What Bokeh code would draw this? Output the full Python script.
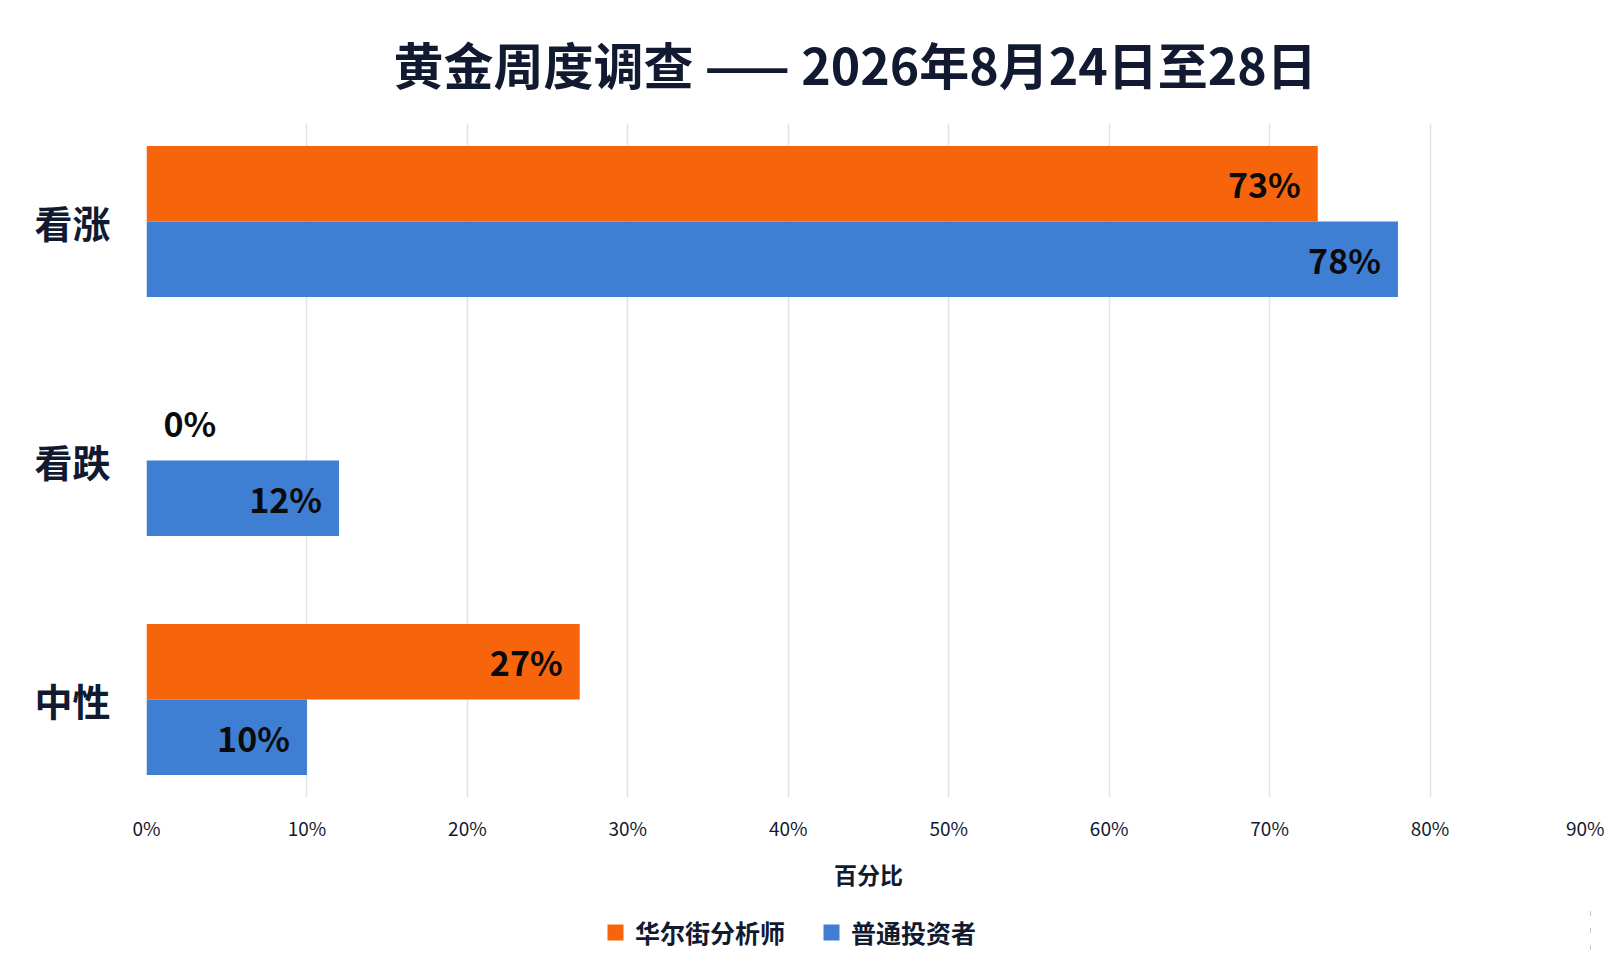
from bokeh.plotting import figure
from bokeh.models import ColumnDataSource, FactorRange, Range1d, FixedTicker, Legend, LegendItem
from bokeh.layouts import column
from bokeh.transform import dodge
from bokeh.core.properties import value
from bokeh.embed import file_html
from bokeh.resources import INLINE

# data
categories = ["看涨", "看跌", "中性"]
analysts = [73, 0, 27]
investors = [78, 12, 10]
series_names = ["华尔街分析师", "普通投资者"]
x_ticks = [0, 10, 20, 30, 40, 50, 60, 70, 80, 90]
x_tick_labels = ["0%", "10%", "20%", "30%", "40%", "50%", "60%", "70%", "80%", "90%"]

FONT = "Noto Sans CJK SC"
DARK = "#111a30"
ORANGE = "#f6650b"
BLUE = "#3f7fd3"


def make_source(vals):
    return ColumnDataSource(data=dict(
        cat=categories,
        val=vals,
        label=[str(v) + "%" for v in vals],
        align=["left" if v == 0 else "right" for v in vals],
        xoff=[17 if v == 0 else -17 for v in vals],
    ))


src_a = make_source(analysts)
src_b = make_source(investors)

p = figure(width=1604, height=905, output_backend="svg", toolbar_location=None,
           y_range=FactorRange(factors=categories[::-1], range_padding=-0.06),
           x_range=Range1d(0, 90),
           min_border_left=146, min_border_right=14, min_border_top=123, min_border_bottom=108)

p.title.text = "黄金周度调查 —— 2026年8月24日至28日"
p.title.text_font = FONT
p.title.text_font_size = "50px"
p.title.text_font_style = "bold"
p.title.text_color = DARK
p.title.text_line_height = 0.85
p.title.align = "left"
p.title.offset = 247
p.title.vertical_align = "top"
p.title.standoff = 46

p.background_fill_color = "white"
p.border_fill_color = "white"
p.outline_line_color = None

bar_h = 0.316
off = bar_h / 2
p.hbar(y=dodge("cat", off, range=p.y_range), left=0, right="val", height=bar_h,
       source=src_a, fill_color=ORANGE, line_color=None)
p.hbar(y=dodge("cat", -off, range=p.y_range), left=0, right="val", height=bar_h,
       source=src_b, fill_color=BLUE, line_color=None)

for src, d in ((src_a, off), (src_b, -off)):
    p.text(x="val", y=dodge("cat", d, range=p.y_range), text="label", source=src,
           text_align="align", x_offset="xoff", text_baseline="middle",
           text_font=value(FONT), text_font_size="34px", text_font_style="bold",
           text_color="#0b0b0b")

# grid / axes
p.xgrid.grid_line_color = "#dfe3ea"
p.xgrid.grid_line_width = 1.5
p.ygrid.grid_line_color = None
p.xaxis.ticker = FixedTicker(ticks=x_ticks)
p.xaxis.major_label_overrides = dict(zip(x_ticks, x_tick_labels))
p.xaxis.major_label_text_font = FONT
p.xaxis.major_label_text_font_size = "19px"
p.xaxis.major_label_text_color = DARK
p.xaxis.major_label_standoff = 10
p.xaxis.axis_label = "百分比"
p.xaxis.axis_label_text_font = FONT
p.xaxis.axis_label_text_font_size = "23px"
p.xaxis.axis_label_text_font_style = "bold"
p.xaxis.axis_label_text_color = DARK
p.xaxis.axis_label_standoff = 13

p.yaxis.major_label_text_font = FONT
p.yaxis.major_label_text_font_size = "38px"
p.yaxis.major_label_text_font_style = "bold"
p.yaxis.major_label_text_color = DARK
p.yaxis.major_label_standoff = 30

for ax in (p.xaxis, p.yaxis):
    ax.axis_line_color = None
    ax.major_tick_line_color = None
    ax.minor_tick_line_color = None

# legend strip: a side-panel legend swallows the frame here, so it gets its own
# small figure; its bars sit outside the visible x range and only feed the swatches
leg_fig = figure(width=1604, height=50, output_backend="svg", toolbar_location=None,
                 x_axis_location=None, y_axis_location=None,
                 x_range=Range1d(-2, -1), y_range=FactorRange(factors=categories),
                 min_border=0)
leg_fig.outline_line_color = None
leg_fig.grid.grid_line_color = None
la = leg_fig.hbar(y="cat", left=0, right="val", height=0.3, source=src_a,
                  fill_color=ORANGE, line_color=None)
lb = leg_fig.hbar(y="cat", left=0, right="val", height=0.3, source=src_b,
                  fill_color=BLUE, line_color=None)

# column aligns the frames, so x is measured from the main chart's 0% line
legend = Legend(items=[LegendItem(label=series_names[0], renderers=[la]),
                       LegendItem(label=series_names[1], renderers=[lb])],
                orientation="horizontal", location=(459, 5),
                glyph_width=20, glyph_height=20, label_standoff=10, spacing=36,
                label_text_font=FONT, label_text_font_size="25px",
                label_text_font_style="bold", label_text_color=DARK,
                border_line_color=None, background_fill_alpha=0,
                padding=0, margin=0)
leg_fig.add_layout(legend)

page = column(p, leg_fig, spacing=0)
open("out.html", "w").write(file_html(page, INLINE))
